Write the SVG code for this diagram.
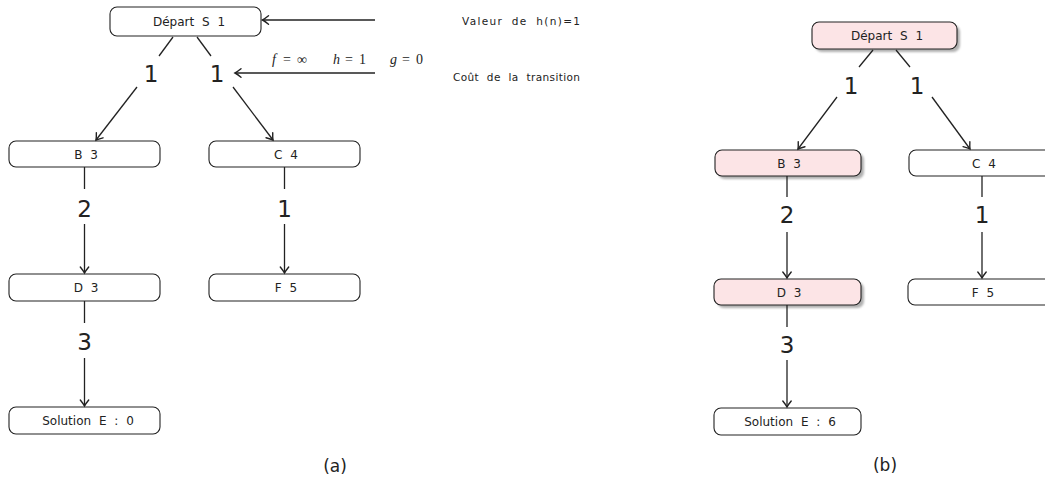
<svg xmlns="http://www.w3.org/2000/svg" width="1045" height="483" viewBox="0 0 1045 483">
<style>
.box{fill:#fff;stroke:#222;stroke-width:1.1}
.pink{fill:#fce4e6;stroke:#222;stroke-width:1.1}
.shadow{fill:#b0b0b0;filter:url(#blur)}
.nt{font-family:"DejaVu Sans",sans-serif;font-size:12px;fill:#222;text-anchor:middle;word-spacing:4px}
.el{font-family:"DejaVu Sans",sans-serif;font-size:23px;fill:#222;text-anchor:middle}
.cap{font-family:"DejaVu Sans",sans-serif;font-size:17px;fill:#222;text-anchor:middle}
.note{font-family:"DejaVu Sans",sans-serif;font-size:10.5px;fill:#222;word-spacing:4px}
.math{font-family:"Liberation Serif",serif;font-size:14px;fill:#222}
.it{font-style:italic}
.ln{stroke:#222;stroke-width:1.3;fill:none}
.ar{stroke:#222;stroke-width:1.3;fill:none;marker-end:url(#arr)}
</style>
<defs>
<filter id="blur" x="-10%" y="-30%" width="120%" height="160%"><feGaussianBlur stdDeviation="0.8"/></filter>
<marker id="arr" markerUnits="userSpaceOnUse" markerWidth="12" markerHeight="12" viewBox="-8 -6 10 12" refX="0" refY="0" orient="auto">
<path d="M-6,-4.2 Q-2,-1 0,0 Q-2,1 -6,4.2" stroke="#222" stroke-width="1.4" fill="none" stroke-linecap="round"/>
</marker>
</defs>

<!-- Panel (a) -->
<g id="a-S"><rect class="box" x="110" y="7" width="151" height="29" rx="7"/><text class="nt" x="189" y="25.5">Départ S 1</text></g>
<g id="a-B"><rect class="box" x="9" y="141" width="151" height="26" rx="7"/><text class="nt" x="86" y="158.5">B 3</text></g>
<g id="a-C"><rect class="box" x="209" y="141" width="151" height="26" rx="7"/><text class="nt" x="286" y="158.5">C 4</text></g>
<g id="a-D"><rect class="box" x="9" y="274" width="151" height="27" rx="7"/><text class="nt" x="86" y="292">D 3</text></g>
<g id="a-F"><rect class="box" x="209" y="274" width="151" height="27" rx="7"/><text class="nt" x="286" y="292">F 5</text></g>
<g id="a-E"><rect class="box" x="9" y="407" width="151" height="27" rx="7"/><text class="nt" x="88" y="425">Solution E : 0</text></g>

<g id="a-connectors">
<line class="ln" x1="173" y1="37" x2="159" y2="56"/>
<line class="ar" x1="137" y1="87" x2="96" y2="140"/>
<line class="ln" x1="197" y1="37" x2="211" y2="56"/>
<line class="ar" x1="233" y1="87" x2="273" y2="140"/>
<line class="ln" x1="84.5" y1="167" x2="84.5" y2="189"/>
<line class="ar" x1="84.5" y1="224" x2="84.5" y2="273"/>
<line class="ln" x1="284.5" y1="167" x2="284.5" y2="189"/>
<line class="ar" x1="284.5" y1="224" x2="284.5" y2="273"/>
<line class="ln" x1="84.5" y1="301" x2="84.5" y2="323"/>
<line class="ar" x1="84.5" y1="358" x2="84.5" y2="406"/>
<line class="ar" x1="375" y1="20" x2="262.5" y2="20"/>
<line class="ar" x1="375" y1="73" x2="235" y2="73"/>
</g>
<g id="a-labels">
<text class="el" x="151" y="82">1</text>
<text class="el" x="217" y="82">1</text>
<text class="el" x="84.5" y="217">2</text>
<text class="el" x="284.5" y="217">1</text>
<text class="el" x="84.5" y="350">3</text>
<text class="note" x="462" y="25" textLength="118" lengthAdjust="spacing">Valeur de h(n)=1</text>
<text class="math" y="64"><tspan class="it" x="272">f</tspan><tspan x="283">=</tspan><tspan x="297">∞</tspan><tspan class="it" x="333">h</tspan><tspan x="345">=</tspan><tspan x="359">1</tspan><tspan class="it" x="390">g</tspan><tspan x="402">=</tspan><tspan x="416">0</tspan></text>
<text class="note" x="453" y="81" textLength="127" lengthAdjust="spacing">Coût de la transition</text>
<text class="cap" x="335" y="472">(a)</text>
</g>

<!-- Panel (b) -->
<g id="b-S"><rect class="shadow" x="815" y="25" width="145" height="27" rx="7"/><rect class="pink" x="812" y="22" width="145" height="27" rx="7"/><text class="nt" x="887" y="40">Départ S 1</text></g>
<g id="b-B"><rect class="shadow" x="718" y="153" width="146" height="26" rx="7"/><rect class="pink" x="715" y="150" width="146" height="26" rx="7"/><text class="nt" x="789" y="167.5">B 3</text></g>
<g id="b-C"><rect class="box" x="909" y="150" width="146" height="26" rx="7"/><text class="nt" x="984" y="167.5">C 4</text></g>
<g id="b-D"><rect class="shadow" x="717" y="282" width="147" height="26" rx="7"/><rect class="pink" x="714" y="279" width="147" height="26" rx="7"/><text class="nt" x="789" y="296.5">D 3</text></g>
<g id="b-F"><rect class="box" x="908" y="279" width="146" height="26" rx="7"/><text class="nt" x="983" y="296.5">F 5</text></g>
<g id="b-E"><rect class="box" x="714" y="408" width="147" height="27" rx="7"/><text class="nt" x="790" y="426">Solution E : 6</text></g>

<g id="b-connectors">
<line class="ln" x1="873" y1="50" x2="859" y2="67"/>
<line class="ar" x1="837" y1="97" x2="798" y2="149"/>
<line class="ln" x1="896" y1="50" x2="910" y2="67"/>
<line class="ar" x1="932" y1="97" x2="970" y2="149"/>
<line class="ln" x1="787" y1="176" x2="787" y2="197"/>
<line class="ar" x1="787" y1="232" x2="787" y2="278"/>
<line class="ln" x1="982" y1="176" x2="982" y2="197"/>
<line class="ar" x1="982" y1="232" x2="982" y2="278"/>
<line class="ln" x1="787" y1="305" x2="787" y2="327"/>
<line class="ar" x1="787" y1="360" x2="787" y2="407"/>
</g>
<g id="b-labels">
<text class="el" x="851" y="94">1</text>
<text class="el" x="917" y="94">1</text>
<text class="el" x="787" y="223">2</text>
<text class="el" x="982" y="223">1</text>
<text class="el" x="787" y="353">3</text>
<text class="cap" x="885" y="471">(b)</text>
</g>
</svg>
